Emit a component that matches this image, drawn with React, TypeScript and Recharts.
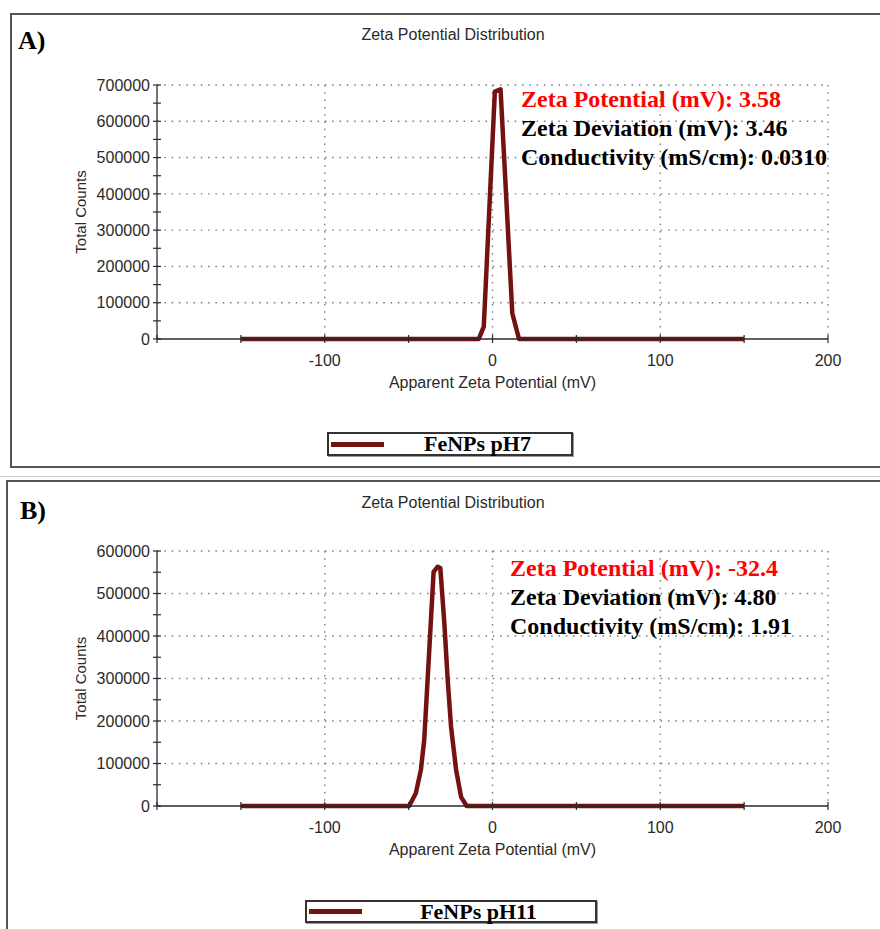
import { LineChart, Line, XAxis, YAxis, CartesianGrid, Legend } from "recharts";

// Panel A – FeNPs pH7
const mvA = [-150, -8.2, -5.2, 1.4, 4.8, 11.8, 15.8, 150];
const countsA = [0, 0, 34000, 682000, 688000, 71000, 0, 0];

// Panel B – FeNPs pH11
const mvB = [-150, -49.7, -45.7, -42.7, -40.7, -37.7, -35.1, -32.7, -31.1, -28.7, -26.7, -24.7, -21.7, -18.7, -15.4, 150];
const countsB = [0, 0, 30000, 85000, 155000, 367000, 551000, 563000, 560000, 430000, 296000, 186000, 85000, 21000, 0, 0];

const xTicks = [-200, -150, -100, -50, 0, 50, 100, 150, 200];
const xGrid = [-100, 0, 100, 200];
const yTicksA = [0, 50000, 100000, 150000, 200000, 250000, 300000, 350000, 400000, 450000, 500000, 550000, 600000, 650000, 700000];
const yGridA = [100000, 200000, 300000, 400000, 500000, 600000, 700000];
const yTicksB = [0, 50000, 100000, 150000, 200000, 250000, 300000, 350000, 400000, 450000, 500000, 550000, 600000];
const yGridB = [100000, 200000, 300000, 400000, 500000, 600000];

const infoA = ["Zeta Potential (mV): 3.58", "Zeta Deviation (mV): 3.46", "Conductivity (mS/cm): 0.0310"];
const infoB = ["Zeta Potential (mV): -32.4", "Zeta Deviation (mV): 4.80", "Conductivity (mS/cm): 1.91"];

const SANS = "'Liberation Sans', Arial, sans-serif";
const SERIF = "'Liberation Serif', 'Times New Roman', serif";
const LINE = "#741212";
const AXIS = "#2a2a2a";

function XTick({ x, y, payload }: any) {
  const v = payload.value;
  const show = v % 100 === 0 && v !== -200;
  return (
    <g>
      <line x1={x} x2={x} y1={y - 4} y2={y + 4} stroke={AXIS} strokeWidth={1.2} />
      {show && (
        <text x={x} y={y + 16} dy="0.71em" textAnchor="middle" fontSize={16} fontFamily={SANS} fill={AXIS}>
          {v}
        </text>
      )}
    </g>
  );
}

function YTick({ x, y, payload }: any) {
  const v = payload.value;
  const show = v % 100000 === 0;
  return (
    <g>
      <line x1={x - 4} x2={x + 4} y1={y} y2={y} stroke={AXIS} strokeWidth={1.2} />
      {show && (
        <text x={x - 7} y={y} dy="0.36em" textAnchor="end" fontSize={16} fontFamily={SANS} fill={AXIS}>
          {v}
        </text>
      )}
    </g>
  );
}

function LegendBox({ payload, width, height }: any) {
  const item = payload && payload[0];
  return (
    <div
      style={{
        boxSizing: "border-box",
        width,
        height,
        border: "2px solid #333",
        boxShadow: "1px 1px 0 #999",
        background: "#fff",
        display: "flex",
        alignItems: "center",
      }}
    >
      <div style={{ width: 53, height: 5, marginLeft: 2, background: item ? item.color : LINE }} />
      <div
        style={{
          flex: 1,
          textAlign: "center",
          fontFamily: SERIF,
          fontWeight: "bold",
          fontSize: 22,
          color: "#000",
          lineHeight: 1,
        }}
      >
        {item ? item.value : ""}
      </div>
    </div>
  );
}

type PanelProps = {
  top: number;
  height: number;
  mv: number[];
  counts: number[];
  yMax: number;
  yTicks: number[];
  yGrid: number[];
  marginTop: number;
  marginBottom: number;
  name: string;
  legend: { left: number; top: number; width: number; height: number };
};

function Panel({ top, height, mv, counts, yMax, yTicks, yGrid, marginTop, marginBottom, name, legend }: PanelProps) {
  const data = mv.map((m, i) => ({ mv: m, counts: counts[i] }));
  return (
    <div style={{ position: "absolute", left: 0, top, width: 880, height }}>
      <LineChart
        width={880}
        height={height}
        data={data}
        margin={{ top: marginTop, right: 52, left: 0, bottom: marginBottom }}
      >
        <CartesianGrid
          stroke="#7a7a7a"
          strokeWidth={1.4}
          strokeDasharray="1.5 5.8"
          horizontalValues={yGrid}
          verticalValues={xGrid}
        />
        <XAxis
          type="number"
          dataKey="mv"
          domain={[-200, 200]}
          ticks={xTicks}
          interval={0}
          tickSize={0}
          tickMargin={0}
          tickLine={false}
          tick={<XTick />}
          axisLine={{ stroke: AXIS, strokeWidth: 1.3 }}
          height={52}
          label={{
            value: "Apparent Zeta Potential (mV)",
            position: "insideBottom",
            offset: 3,
            fontSize: 16,
            fontFamily: SANS,
            fill: AXIS,
          }}
        />
        <YAxis
          type="number"
          domain={[0, yMax]}
          ticks={yTicks}
          interval={0}
          tickSize={0}
          tickMargin={0}
          tickLine={false}
          tick={<YTick />}
          axisLine={{ stroke: AXIS, strokeWidth: 1.3 }}
          width={157}
          label={{
            value: "Total Counts",
            angle: -90,
            position: "center",
            dx: 2,
            fontSize: 15,
            fontFamily: SANS,
            fill: AXIS,
          }}
        />
        <Legend
          layout="vertical"
          align="center"
          verticalAlign="middle"
          wrapperStyle={{ left: legend.left, top: legend.top, width: legend.width, height: legend.height }}
          content={(p: any) => <LegendBox payload={p.payload} width={legend.width} height={legend.height} />}
        />
        <Line
          type="linear"
          dataKey="counts"
          name={name}
          stroke={LINE}
          strokeWidth={4.5}
          strokeLinejoin="round"
          dot={false}
          activeDot={false}
          isAnimationActive={false}
        />
      </LineChart>
    </div>
  );
}

function Info({ left, top, lines }: { left: number; top: number; lines: string[] }) {
  return (
    <div style={{ position: "absolute", left, top, fontFamily: SERIF, fontWeight: "bold", fontSize: 24 }}>
      {lines.map((t, i) => (
        <div key={i} style={{ height: 29, lineHeight: "29px", whiteSpace: "nowrap", color: i === 0 ? "#ff0000" : "#000" }}>
          {t}
        </div>
      ))}
    </div>
  );
}

function Title({ top }: { top: number }) {
  return (
    <div
      style={{
        position: "absolute",
        left: 253,
        width: 400,
        top,
        textAlign: "center",
        fontFamily: SANS,
        fontSize: 16,
        lineHeight: "16px",
        color: AXIS,
      }}
    >
      Zeta Potential Distribution
    </div>
  );
}

function Tag({ left, top, text }: { left: number; top: number; text: string }) {
  return (
    <div
      style={{
        position: "absolute",
        left,
        top,
        fontFamily: SERIF,
        fontWeight: "bold",
        fontSize: 26,
        lineHeight: "26px",
        color: "#000",
      }}
    >
      {text}
    </div>
  );
}

export default function App() {
  return (
    <div
      style={{
        position: "absolute",
        left: 0,
        top: 0,
        width: 880,
        height: 929,
        overflow: "hidden",
        background: "#fff",
      }}
    >
      <div
        style={{
          position: "absolute",
          left: 10,
          top: 13,
          width: 880,
          height: 455,
          boxSizing: "border-box",
          border: "2px solid #555",
        }}
      />
      <div style={{ position: "absolute", left: 0, top: 476, width: 880, height: 1, background: "#ccc" }} />
      <div
        style={{
          position: "absolute",
          left: 6,
          top: 480,
          width: 890,
          height: 470,
          boxSizing: "border-box",
          border: "2px solid #555",
        }}
      />
      <Panel
        top={0}
        height={470}
        mv={mvA}
        counts={countsA}
        yMax={700000}
        yTicks={yTicksA}
        yGrid={yGridA}
        marginTop={85}
        marginBottom={79}
        name="FeNPs pH7"
        legend={{ left: 327, top: 432, width: 246, height: 24 }}
      />
      <Panel
        top={470}
        height={459}
        mv={mvB}
        counts={countsB}
        yMax={600000}
        yTicks={yTicksB}
        yGrid={yGridB}
        marginTop={81}
        marginBottom={71}
        name="FeNPs pH11"
        legend={{ left: 305, top: 430, width: 292, height: 23 }}
      />
      <Title top={27} />
      <Title top={495} />
      <Tag left={18} top={28} text="A)" />
      <Tag left={20} top={498} text="B)" />
      <Info left={521} top={85} lines={infoA} />
      <Info left={510} top={554} lines={infoB} />
    </div>
  );
}
